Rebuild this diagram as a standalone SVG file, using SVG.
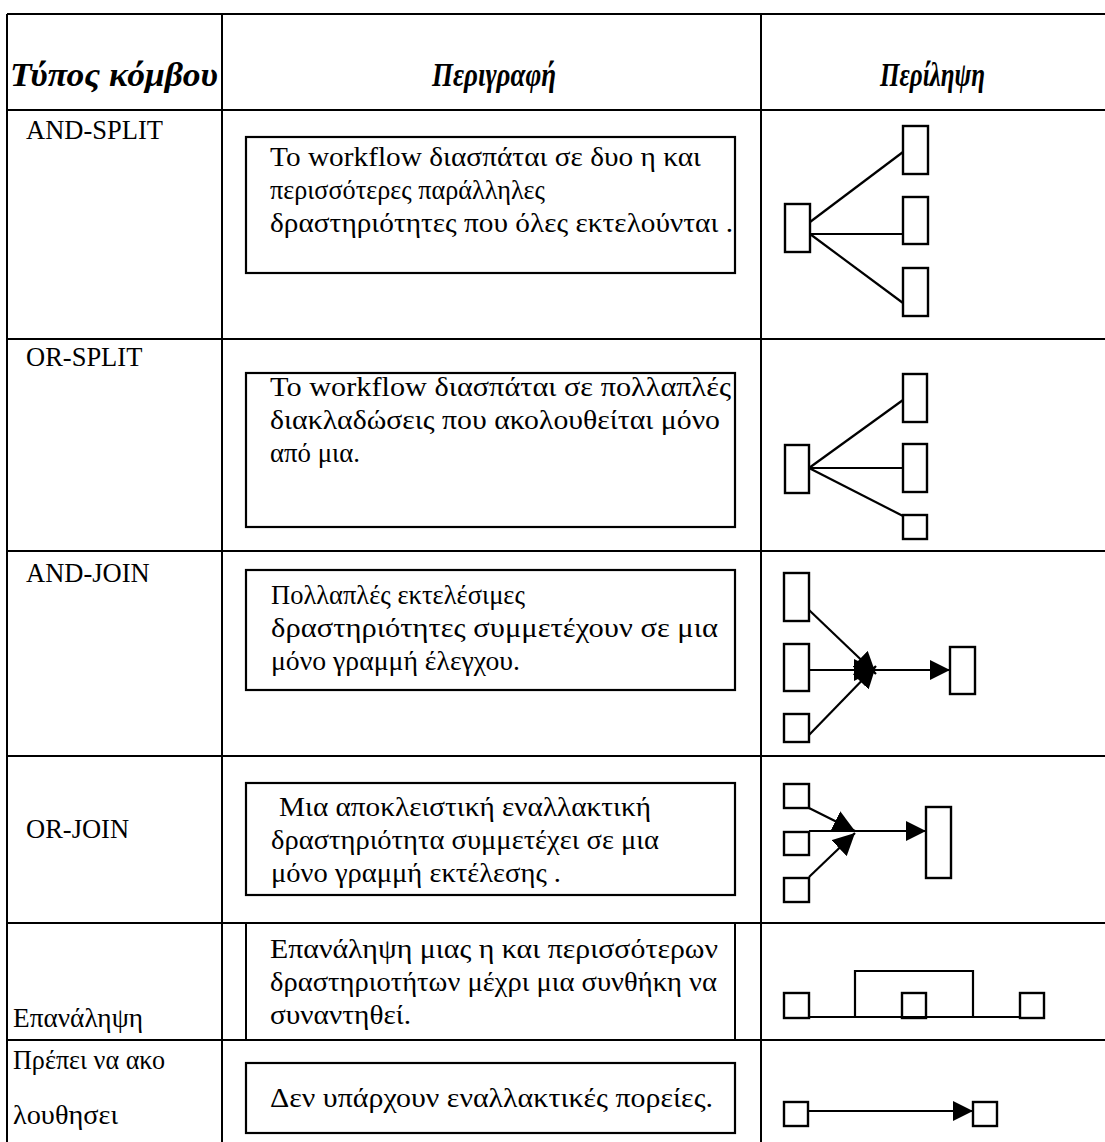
<svg xmlns="http://www.w3.org/2000/svg" width="1105" height="1142" viewBox="0 0 1105 1142">
  <style>
    .grid line { stroke: #000; stroke-width: 2; }
    .box { fill: #fff; stroke: #000; stroke-width: 2.2; }
    .node { fill: #fff; stroke: #000; stroke-width: 2.4; }
    .edge { fill: none; stroke: #000; stroke-width: 2.2; }
    .hdr { font-family: "Liberation Serif", "Times New Roman", serif; font-size: 33px; font-weight: bold; font-style: italic; fill: #000; }
    .lbl { font-family: "Liberation Serif", "Times New Roman", serif; font-size: 26.5px; fill: #000; }
    .txt { font-family: "Liberation Serif", "Times New Roman", serif; font-size: 27px; fill: #000; }
  </style>
  <defs>
    <marker id="arrow" markerUnits="userSpaceOnUse" markerWidth="20" markerHeight="20" viewBox="0 0 20 20" refX="20" refY="10" orient="auto">
      <path d="M0,0 L20,10 L0,20 z" fill="#000"/>
    </marker>
    <marker id="arrow-j" markerUnits="userSpaceOnUse" markerWidth="22" markerHeight="22" viewBox="0 0 20 20" refX="20" refY="10" orient="auto">
      <path d="M0,0 L20,10 L0,20 z" fill="#000"/>
    </marker>
  </defs>

  <rect width="1105" height="1142" fill="#fff"/>

  <!-- table rules -->
  <g id="grid" class="grid">
    <line x1="7" y1="14" x2="1105" y2="14"/>
    <line x1="7" y1="110" x2="1105" y2="110"/>
    <line x1="7" y1="339" x2="1105" y2="339"/>
    <line x1="7" y1="551" x2="1105" y2="551"/>
    <line x1="7" y1="756" x2="1105" y2="756"/>
    <line x1="7" y1="923" x2="1105" y2="923"/>
    <line x1="7" y1="1040" x2="1105" y2="1040"/>
    <line x1="7" y1="14" x2="7" y2="1142"/>
    <line x1="222" y1="14" x2="222" y2="1142"/>
    <line x1="761" y1="14" x2="761" y2="1142"/>
  </g>

  <!-- column headings -->
  <g id="header">
    <text class="hdr" x="10" y="86" textLength="208" lengthAdjust="spacingAndGlyphs">Τύπος κόμβου</text>
    <text class="hdr" x="432" y="86" textLength="124" lengthAdjust="spacingAndGlyphs">Περιγραφή</text>
    <text class="hdr" x="880" y="86" textLength="105" lengthAdjust="spacingAndGlyphs">Περίληψη</text>
  </g>

  <!-- AND-SPLIT -->
  <g id="and-split">
    <text class="lbl" x="26" y="139">AND-SPLIT</text>
    <rect class="box" x="246" y="137" width="489" height="136"/>
    <text class="txt" x="270" y="166" textLength="431" lengthAdjust="spacingAndGlyphs">Το workflow διασπάται σε δυο η και</text>
    <text class="txt" x="270" y="199" textLength="275" lengthAdjust="spacingAndGlyphs">περισσότερες παράλληλες</text>
    <text class="txt" x="270" y="232" textLength="463" lengthAdjust="spacingAndGlyphs">δραστηριότητες που όλες εκτελούνται .</text>
    <rect class="node" x="785" y="204" width="25" height="48"/>
    <rect class="node" x="903" y="126" width="25" height="48"/>
    <rect class="node" x="903" y="197" width="25" height="47"/>
    <rect class="node" x="903" y="268" width="25" height="48"/>
  </g>

  <!-- OR-SPLIT -->
  <g id="or-split">
    <text class="lbl" x="26" y="366">OR-SPLIT</text>
    <rect class="box" x="246" y="373" width="489" height="154"/>
    <text class="txt" x="270" y="396" textLength="461" lengthAdjust="spacingAndGlyphs">Το workflow διασπάται σε πολλαπλές</text>
    <text class="txt" x="270" y="429" textLength="450" lengthAdjust="spacingAndGlyphs">διακλαδώσεις που ακολουθείται μόνο</text>
    <text class="txt" x="270" y="462" textLength="90" lengthAdjust="spacingAndGlyphs">από μια.</text>
    <rect class="node" x="785" y="445" width="24" height="48"/>
    <rect class="node" x="903" y="374" width="24" height="48"/>
    <rect class="node" x="903" y="444" width="24" height="48"/>
    <rect class="node" x="903" y="515" width="24" height="24"/>
  </g>

  <!-- AND-JOIN -->
  <g id="and-join">
    <text class="lbl" x="26" y="582">AND-JOIN</text>
    <rect class="box" x="246" y="570" width="489" height="120"/>
    <text class="txt" x="271" y="604" textLength="254" lengthAdjust="spacingAndGlyphs">Πολλαπλές εκτελέσιμες</text>
    <text class="txt" x="271" y="637" textLength="447" lengthAdjust="spacingAndGlyphs">δραστηριότητες συμμετέχουν σε μια</text>
    <text class="txt" x="271" y="670" textLength="249" lengthAdjust="spacingAndGlyphs">μόνο γραμμή έλεγχου.</text>
    <rect class="node" x="784" y="573" width="25" height="48"/>
    <rect class="node" x="784" y="644" width="25" height="47"/>
    <rect class="node" x="784" y="714" width="25" height="28"/>
    <rect class="node" x="950" y="647" width="25" height="47"/>
  </g>

  <!-- OR-JOIN -->
  <g id="or-join">
    <text class="lbl" x="26" y="838">OR-JOIN</text>
    <rect class="box" x="246" y="783" width="489" height="112"/>
    <text class="txt" x="279" y="816" textLength="372" lengthAdjust="spacingAndGlyphs">Μια αποκλειστική εναλλακτική</text>
    <text class="txt" x="271" y="849" textLength="388" lengthAdjust="spacingAndGlyphs">δραστηριότητα συμμετέχει σε μια</text>
    <text class="txt" x="271" y="882" textLength="290" lengthAdjust="spacingAndGlyphs">μόνο γραμμή εκτέλεσης .</text>
    <rect class="node" x="784" y="784" width="25" height="24"/>
    <rect class="node" x="784" y="832" width="25" height="23"/>
    <rect class="node" x="784" y="878" width="25" height="24"/>
    <rect class="node" x="926" y="807" width="25" height="71"/>
  </g>

  <!-- Επανάληψη -->
  <g id="loop">
    <text class="txt" x="13" y="1027" textLength="130" lengthAdjust="spacingAndGlyphs">Επανάληψη</text>
    <line x1="246" y1="923" x2="246" y2="1040" stroke="#000" stroke-width="2"/>
    <line x1="735" y1="923" x2="735" y2="1040" stroke="#000" stroke-width="2"/>
    <text class="txt" x="270" y="958" textLength="448" lengthAdjust="spacingAndGlyphs">Επανάληψη μιας η και περισσότερων</text>
    <text class="txt" x="270" y="991" textLength="447" lengthAdjust="spacingAndGlyphs">δραστηριοτήτων μέχρι μια συνθήκη να</text>
    <text class="txt" x="270" y="1024" textLength="141" lengthAdjust="spacingAndGlyphs">συναντηθεί.</text>
    <rect class="node" x="784" y="993" width="25" height="25"/>
    <rect class="node" x="902" y="993" width="24" height="25"/>
    <rect class="node" x="1020" y="993" width="24" height="25"/>
  </g>

  <!-- Πρέπει να ακολουθησει -->
  <g id="sequence">
    <text class="txt" x="13" y="1069" textLength="152" lengthAdjust="spacingAndGlyphs">Πρέπει να ακο</text>
    <text class="txt" x="13" y="1124" textLength="105" lengthAdjust="spacingAndGlyphs">λουθησει</text>
    <rect class="box" x="246" y="1063" width="489" height="70"/>
    <text class="txt" x="270" y="1107" textLength="443" lengthAdjust="spacingAndGlyphs">Δεν υπάρχουν εναλλακτικές πορείες.</text>
    <rect class="node" x="784" y="1102" width="24" height="24"/>
    <rect class="node" x="973" y="1102" width="24" height="24"/>
  </g>

  <!-- connectors -->
  <g id="connectors" class="edge">
    <line class="edge" x1="810" y1="222" x2="903" y2="152"/>
    <line class="edge" x1="810" y1="234" x2="903" y2="234"/>
    <line class="edge" x1="810" y1="234" x2="903" y2="303"/>

    <line class="edge" x1="809" y1="468" x2="903" y2="400"/>
    <line class="edge" x1="809" y1="468" x2="903" y2="468"/>
    <line class="edge" x1="809" y1="468" x2="903" y2="516"/>

    <line class="edge" x1="809" y1="610" x2="876" y2="674" marker-end="url(#arrow-j)"/>
    <line class="edge" x1="809" y1="670" x2="876" y2="670" marker-end="url(#arrow-j)"/>
    <line class="edge" x1="809" y1="735" x2="876" y2="666" marker-end="url(#arrow-j)"/>
    <line class="edge" x1="872" y1="670" x2="950" y2="670" marker-end="url(#arrow)"/>

    <line class="edge" x1="809" y1="808" x2="855" y2="831" marker-end="url(#arrow-j)"/>
    <line class="edge" x1="809" y1="877" x2="855" y2="833" marker-end="url(#arrow-j)"/>
    <line class="edge" x1="809" y1="831" x2="926" y2="831" marker-end="url(#arrow)"/>

    <polyline class="edge" points="809,1017 1020,1017"/>
    <polyline class="edge" points="855,1017 855,971 973,971 973,1017"/>

    <line class="edge" x1="808" y1="1111" x2="973" y2="1111" marker-end="url(#arrow)"/>
  </g>
</svg>
